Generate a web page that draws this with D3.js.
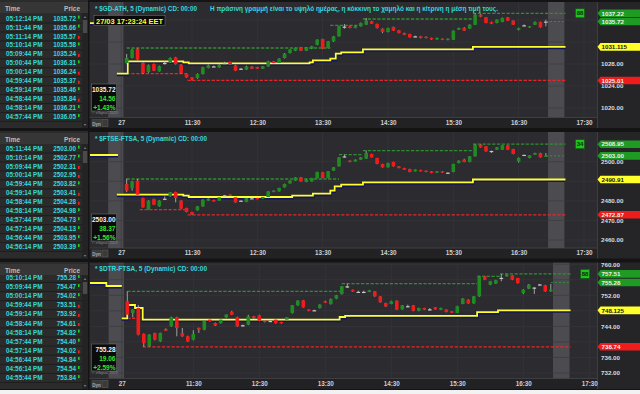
<!DOCTYPE html>
<html>
<head>
<meta charset="utf-8">
<script src="https://cdn.jsdelivr.net/npm/d3@7"></script>
<style>
  body { margin: 0; background: #fff; }
  svg { display: block; font-family: "Liberation Sans", Arial, sans-serif; font-weight: bold; }
</style>
</head>
<body>
<div id="chart"></div>
<script>
// ---------- time & sales tapes (left tables) ----------
const tapeTimes1 = ["05:12:14 PM","05:11:44 PM","05:11:14 PM","05:10:14 PM","05:09:44 PM","05:00:44 PM","05:00:14 PM","04:59:44 PM","04:59:14 PM","04:58:44 PM","04:58:14 PM","04:57:44 PM"];
const tapePrices1 = [1035.72,1035.66,1035.57,1035.58,1035.24,1036.31,1036.24,1035.37,1035.46,1035.84,1036.21,1036.05];
const tapeDirs1 = [1,1,-1,1,-1,1,-1,-1,1,-1,1,1];

const tapeTimes2 = ["05:11:44 PM","05:10:14 PM","05:09:44 PM","05:00:14 PM","04:59:44 PM","04:59:14 PM","04:58:44 PM","04:58:14 PM","04:57:44 PM","04:57:14 PM","04:56:44 PM","04:56:14 PM"];
const tapePrices2 = [2503.00,2502.77,2502.31,2502.95,2503.82,2503.41,2504.28,2504.98,2504.73,2504.13,2503.95,2503.39];
const tapeDirs2 = [1,1,-1,-1,1,-1,-1,1,1,1,1,1];

const tapeTimes3 = ["05:10:14 PM","05:09:44 PM","05:00:14 PM","04:59:44 PM","04:59:14 PM","04:58:44 PM","04:58:14 PM","04:57:44 PM","04:57:14 PM","04:56:44 PM","04:56:14 PM","04:55:44 PM"];
const tapePrices3 = [755.28,754.47,754.02,753.51,753.92,754.61,754.82,754.40,754.02,754.84,754.54,753.84];
const tapeDirs3 = [1,1,1,-1,-1,-1,1,1,-1,1,1,1];

// ---------- 5 minute candles, 10:30 .. 16:55 ----------
const open1 = [1028.18,1029.09,1030.79,1028.18,1026.54,1028.0,1026.67,1028.2,1028.30,1029.2,
  1027.88,1026.18,1025.57,1025.45,1026.18,1027.27,1027.57,1027.39,1028.18,1028.36,
  1027.76,1027.15,1026.97,1027.51,1027.45,1027.15,1027.57,1028.48,1028.18,1029.09,
  1030.0,1030.42,1031.03,1030.42,1030.79,1031.51,1032.54,1030.91,1032.12,1033.03,
  1034.8,1034.85,1034.54,1034.85,1035.15,1035.76,1035.27,1034.42,1033.82,1034.73,
  1034.12,1033.63,1033.45,1033.03,1033.03,1032.97,1032.73,1032.48,1032.60,1032.36,
  1032.42,1034.24,1034.54,1034.42,1035.15,1036.97,1036.48,1035.63,1035.45,1035.63,
  1036.48,1035.88,1034.24,1035.03,1034.67,1035.15,1035.63,1035.72];
const close1 = [1029.09,1030.6,1028.79,1026.36,1027.76,1026.79,1027.57,1028.15,1029.09,1028.0,
  1026.36,1025.57,1025.27,1026.18,1027.39,1027.76,1027.55,1027.88,1028.16,1028.0,
  1026.79,1027.13,1027.57,1027.15,1027.15,1027.57,1028.48,1028.18,1028.97,1029.88,
  1030.6,1030.91,1030.42,1031.03,1031.21,1032.42,1030.79,1032.12,1033.03,1034.85,
  1034.78,1034.54,1034.85,1035.45,1035.88,1035.33,1034.54,1033.82,1034.54,1034.06,
  1033.63,1033.33,1032.85,1033.01,1032.73,1032.73,1032.48,1032.73,1032.42,1032.60,
  1034.06,1034.54,1034.06,1035.15,1036.97,1036.6,1035.45,1035.33,1036.06,1036.36,
  1035.88,1035.15,1034.54,1035.01,1034.85,1035.63,1034.67,1035.72];
const high1 = [1029.82,1030.75,1030.91,1028.3,1027.9,1028.1,1027.7,1028.48,1029.2,1029.3,
  1028.0,1026.2,1025.6,1026.3,1027.5,1027.9,1027.7,1028.0,1028.4,1028.45,
  1027.85,1027.3,1027.7,1027.6,1027.5,1027.65,1028.6,1028.55,1029.05,1030.0,
  1030.7,1030.95,1031.1,1031.1,1031.3,1032.5,1032.6,1032.2,1033.1,1034.95,
  1035.27,1034.95,1034.95,1035.55,1036.36,1035.85,1035.35,1034.5,1034.6,1034.8,
  1034.2,1033.7,1033.5,1033.15,1033.1,1033.0,1032.8,1032.8,1032.65,1032.65,
  1034.1,1034.6,1034.7,1035.2,1037.22,1037.1,1036.55,1035.7,1036.1,1036.45,
  1036.55,1035.95,1034.6,1035.2,1034.9,1035.75,1035.7,1036.06];
const low1 = [1028.1,1029.0,1028.7,1026.24,1026.4,1026.7,1026.6,1027.88,1028.2,1027.9,
  1026.24,1025.5,1025.01,1025.3,1026.1,1027.2,1027.45,1027.3,1028.0,1027.9,
  1026.7,1027.0,1026.9,1027.1,1027.1,1027.1,1027.5,1028.1,1028.1,1029.0,
  1029.9,1030.35,1030.35,1030.35,1030.7,1031.4,1030.7,1030.85,1032.0,1032.97,
  1034.42,1034.5,1034.5,1034.8,1035.1,1035.3,1034.45,1033.6,1033.75,1034.0,
  1033.55,1033.25,1032.8,1032.9,1032.65,1032.65,1032.4,1032.4,1032.35,1032.3,
  1032.36,1034.2,1034.0,1034.4,1035.1,1036.5,1035.4,1035.25,1035.4,1035.6,
  1035.8,1035.1,1034.1,1034.9,1034.6,1035.1,1034.6,1034.85];

const open2 = [2488.61,2486.56,2490.31,2481.46,2475.84,2480.95,2477.2,2481.1,2482.31,2484.52,
  2480.1,2476.35,2474.31,2475.16,2477.2,2480.1,2480.44,2480.1,2482.82,2483.16,
  2481.8,2480.1,2479.42,2481.3,2481.46,2481.12,2481.97,2484.52,2484.86,2486.91,
  2488.95,2490.31,2492.01,2489.63,2489.97,2491.67,2494.57,2491.67,2495.42,2497.63,
  2502.7,2500.52,2500.18,2501.03,2501.55,2503.93,2501.89,2498.82,2497.12,2499.84,
  2497.63,2496.78,2496.27,2495.08,2495.76,2495.42,2495.08,2494.4,2495.08,2494.4,
  2494.74,2499.33,2501.03,2499.84,2502.74,2508.7,2507.84,2505.5,2506.14,2506.14,
  2508.35,2506.48,2500.18,2503.5,2501.89,2503.59,2504.44,2502.6];
const close2 = [2485.2,2489.97,2483.16,2476.69,2480.1,2478.05,2480.1,2481.0,2484.35,2481.46,
  2476.01,2474.31,2473.29,2477.2,2480.61,2481.12,2479.76,2481.8,2482.8,2482.48,
  2479.24,2480.05,2481.46,2481.25,2480.78,2481.97,2484.86,2485.2,2486.56,2488.61,
  2490.31,2492.01,2489.97,2490.82,2491.67,2494.74,2491.67,2495.08,2497.12,2502.23,
  2502.6,2499.84,2501.03,2502.23,2504.44,2502.23,2498.82,2497.12,2499.33,2497.63,
  2496.78,2495.93,2494.74,2495.93,2495.08,2494.74,2494.22,2495.08,2494.4,2494.38,
  2498.82,2500.52,2499.84,2502.74,2508.7,2507.33,2505.29,2505.45,2507.33,2508.35,
  2506.14,2503.93,2501.89,2503.45,2503.25,2504.44,2502.23,2503.0];
const high2 = [2491.33,2490.2,2491.16,2481.6,2480.3,2481.1,2480.3,2482.31,2484.5,2484.7,
  2480.3,2476.5,2474.4,2477.4,2480.8,2481.3,2480.6,2482.0,2483.0,2483.3,
  2482.0,2480.2,2481.6,2481.46,2481.6,2482.1,2485.0,2485.4,2486.7,2488.8,
  2490.5,2492.1,2492.2,2491.0,2491.8,2494.9,2494.8,2495.2,2497.3,2502.4,
  2503.59,2500.7,2501.2,2502.4,2505.63,2504.1,2502.0,2499.0,2499.5,2500.0,
  2497.8,2496.9,2496.4,2496.1,2495.9,2495.5,2495.2,2495.2,2495.2,2494.57,
  2499.0,2500.7,2501.55,2502.9,2508.95,2508.9,2508.0,2505.63,2507.5,2508.5,
  2508.5,2506.6,2502.2,2503.59,2503.4,2504.6,2504.6,2504.44];
const low2 = [2484.5,2485.2,2483.0,2476.5,2475.5,2477.9,2477.0,2480.61,2482.1,2479.24,
  2475.9,2474.1,2472.87,2475.0,2477.0,2480.0,2479.6,2480.0,2482.5,2482.3,
  2479.1,2479.76,2479.3,2480.95,2480.7,2481.0,2481.8,2484.4,2484.7,2486.8,
  2488.8,2490.2,2489.8,2489.5,2489.8,2491.5,2491.5,2491.5,2495.3,2497.5,
  2502.23,2499.7,2500.0,2500.9,2501.4,2502.1,2498.7,2497.0,2497.0,2497.5,
  2496.6,2495.8,2494.6,2495.0,2495.0,2494.6,2494.1,2494.3,2494.3,2494.05,
  2494.6,2499.2,2499.7,2499.7,2502.6,2507.2,2505.1,2504.44,2506.0,2506.0,
  2506.0,2503.8,2499.5,2503.25,2501.7,2503.5,2502.1,2502.5];

const open3 = [750.45,747.45,748.73,742.04,738.87,742.3,740.15,743.33,744.02,746.33,
  742.3,741.44,740.58,743.59,743.16,745.73,744.87,744.87,746.33,747.70,
  746.33,744.3,744.44,746.59,746.85,745.47,745.4,745.73,745.13,745.73,
  747.45,749.42,750.71,748.31,748.15,748.73,750.45,749.76,751.14,752.34,
  754.31,753.37,752.9,752.9,752.85,753.02,751.74,750.02,749.76,750.62,
  748.39,749.2,749.42,748.05,748.73,748.4,748.91,748.31,748.31,747.88,
  747.45,749.76,750.88,749.94,751.74,756.88,754.74,755.0,756.5,756.88,
  757.14,756.46,752.6,753.71,754.0,754.8,754.57,753.02];
const close3 = [747.02,748.31,741.87,739.73,741.87,740.58,742.3,742.9,746.33,743.59,
  741.44,740.15,742.04,743.16,745.47,745.30,744.27,745.73,747.02,747.02,
  744.02,744.25,746.59,746.16,745.47,745.13,745.38,744.87,744.87,746.33,
  749.42,750.62,748.91,748.05,748.13,749.59,750.1,751.05,751.99,754.31,
  754.3,753.02,752.88,752.88,753.28,751.74,750.19,749.16,750.45,748.31,
  749.42,749.18,748.05,748.73,748.31,748.38,748.39,748.73,747.70,747.53,
  749.16,751.14,749.94,751.74,756.88,756.03,755.6,755.86,756.48,757.31,
  756.03,755.17,753.45,754.74,753.98,754.78,753.02,753.45];
const high3 = [753.02,748.4,749.5,742.2,742.0,742.4,742.4,743.5,746.5,746.5,
  743.59,741.6,743.0,743.7,745.6,745.9,745.0,745.9,747.1,748.0,
  746.5,744.44,747.0,746.7,747.0,745.6,745.5,745.9,745.2,746.4,
  749.5,750.7,750.8,748.4,748.3,749.7,750.6,751.2,752.1,754.4,
  755.0,753.5,753.2,753.2,753.4,753.1,751.8,750.1,750.6,750.7,
  749.5,749.59,749.5,748.8,748.8,748.73,749.0,748.8,748.4,747.95,
  749.3,751.3,751.0,751.8,757.0,757.0,755.7,756.0,757.51,757.4,
  757.2,756.5,753.6,754.9,754.05,754.91,754.7,754.91];
const low3 = [746.9,746.33,741.7,738.74,738.74,740.4,740.0,742.8,743.9,741.44,
  741.3,740.0,740.4,742.3,743.0,745.2,744.1,744.7,746.2,746.9,
  743.9,743.93,744.3,746.0,745.3,745.0,745.1,744.7,744.7,745.6,
  747.3,749.3,748.8,747.9,748.0,748.6,750.0,749.6,751.0,752.2,
  753.88,752.9,752.6,752.51,752.8,751.6,750.1,749.0,749.7,748.2,
  748.3,748.91,747.9,747.9,748.2,748.05,748.3,748.2,747.6,747.45,
  747.4,749.7,749.8,749.8,751.6,755.9,754.6,754.9,755.6,756.8,
  755.9,755.0,752.3,753.6,752.34,754.57,752.9,752.9];

// ---------- day high / low / mid step lines [time, value] ----------
const hiSteps1 = [["10:30",1030.91],["13:37",1035.03],["14:07",1036.18],["15:48",1037.22]];
const loSteps1 = [["10:30",1026.24],["11:26",1025.01]];
const midSteps1 = [["10:21",1026.24],["10:31",1028.48],["11:22",1028.30],["11:27",1028.12],["13:18",1028.30],
  ["13:21",1028.67],["13:37",1028.97],["13:42",1029.88],["13:47",1030.12],["14:07",1030.67],["15:48",1031.115]];
const prevMid1 = [["09:50",1035.45],["10:05",1035.45]];

const hiSteps2 = [["10:30",2491.16],["13:45",2503.59],["14:07",2505.63],["15:48",2508.95]];
const loSteps2 = [["10:29",2483.16],["10:42",2475.5],["11:26",2472.87]];
const midSteps2 = [["10:21",2483.16],["11:22",2482.65],["11:27",2481.97],["13:02",2482.65],["13:21",2483.67],
  ["13:37",2485.2],["13:41",2487.42],["13:47",2488.27],["14:07",2489.46],["15:48",2490.91]];
const prevMid2 = [["09:50",2503.42],["10:22",2503.42]];

const hiSteps3 = [["10:30",753.02],["13:45",755.0],["15:48",756.88],["16:09",757.51]];
const loSteps3 = [["10:30",746.07],["10:44",738.74]];
const midSteps3 = [["10:25",746.07],["10:30",749.5],["10:37",748.73],["10:44",745.73],["13:43",746.42],
  ["13:48",746.72],["15:48",747.66],["16:07",748.125]];
const prevMid3 = [["09:50",755.17],["10:11",754.39],["10:25",754.39]];

// ---------- axes ----------
const timeTicks = ["10:25","11:30","12:30","13:30","14:30","15:30","16:30","17:30"];
const timeLabels = ["27","11:30","12:30","13:30","14:30","15:30","16:30","17:30"];
const priceTicks1 = [1020,1024,1028,1032,1036];
const priceTicks2 = [2460,2470,2480,2490,2500];
const priceTicks3 = [732,736,740,744,748,752,756,760];

// right-hand price tags
const tagVals1 = [1037.22,1035.72,1031.115,1025.01];
const tagVals2 = [2508.95,2503.00,2490.91,2472.87];
const tagVals3 = [757.51,755.28,748.125,738.74];
const tagLabels1 = ["1037.22","1035.72","1031.115","1025.01"];
const tagLabels2 = ["2508.95","2503.00","2490.91","2472.87"];
const tagLabels3 = ["757.51","755.28","748.125","738.74"];
const tagKinds = ["hi","last","mid","lo"];

// last / change / pct boxes
const lastBox1 = ["1035.72","14.56","+1.43%"];
const lastBox2 = ["2503.00","38.37","+1.56%"];
const lastBox3 = ["755.28","19.06","+2.59%"];

const titles = ["* $GD-ATH, 5 (Dynamic) CD: 00:00","* $FTSE-FTSA, 5 (Dynamic) CD: 00:00","* $DTR-FTSA, 5 (Dynamic) CD: 00:00"];
const countText = ["88","34","88"];
const note = "Η πράσινη γραμμή είναι το υψηλό ημέρας, η κόκκινη το χαμηλό και η κίτρινη η μέση τιμή τους.";

// ---------- layout ----------
const parseT = d3.timeParse("%H:%M");
const barTimes = d3.range(78).map(i => d3.timeMinute.offset(parseT("10:30"), 5 * i));
const lineEnd = parseT("17:13");
const grayZones = [["10:13","10:27"],["16:57","17:12"]];

const panels = [
  {top: 0, plotTop: 2, plotBottom: 117.5, bottom: 128, xRange: [192, 584], yDomain: [1020, 1032], yRange: [108, 42],
   o: open1, h: high1, l: low1, c: close1, hi: hiSteps1, lo: loSteps1, mid: midSteps1, prev: prevMid1,
   ticks: priceTicks1, tagV: tagVals1, tagL: tagLabels1, box: lastBox1, boxY: 84,
   tt: tapeTimes1, tp: tapePrices1, td: tapeDirs1, rowTop: 20.6, rowH: 8.95, thumb: [20, 33]},
  {top: 131, plotTop: 132, plotBottom: 248, bottom: 258.5, xRange: [192, 584], yDomain: [2460, 2500], yRange: [240, 161.7],
   o: open2, h: high2, l: low2, c: close2, hi: hiSteps2, lo: loSteps2, mid: midSteps2, prev: prevMid2,
   ticks: priceTicks2, tagV: tagVals2, tagL: tagLabels2, box: lastBox2, boxY: 214,
   tt: tapeTimes2, tp: tapePrices2, td: tapeDirs2, rowTop: 150.6, rowH: 8.95, thumb: [151, 163]},
  {top: 262, plotTop: 262.5, plotBottom: 378.5, bottom: 389, xRange: [193.3, 589.3], yDomain: [732, 752], yRange: [373, 295.3],
   o: open3, h: high3, l: low3, c: close3, hi: hiSteps3, lo: loSteps3, mid: midSteps3, prev: prevMid3,
   ticks: priceTicks3, tagV: tagVals3, tagL: tagLabels3, box: lastBox3, boxY: 344,
   tt: tapeTimes3, tp: tapePrices3, td: tapeDirs3, rowTop: 280, rowH: 9.1, thumb: [282, 294]}
];

const GREEN = "#1f8c22", RED = "#f01c1c", CYAN = "#35d8dc";
const fmt = d3.format(".2f");

const svg = d3.select("#chart").append("svg").attr("width", 640).attr("height", 394);
svg.append("rect").attr("width", 640).attr("height", 394).attr("fill", "#141414");
svg.append("rect").attr("y", 390).attr("width", 640).attr("height", 4).attr("fill", "#f2f2f2");

panels.forEach((p, k) => {
  const x = d3.scaleTime().domain([parseT("11:30"), parseT("17:30")]).range(p.xRange);
  const y = d3.scaleLinear().domain(p.yDomain).range(p.yRange);
  const g = svg.append("g");

  // ----- left table -----
  const tb = g.append("g");
  tb.append("rect").attr("x", 0).attr("y", p.top).attr("width", 88).attr("height", p.bottom - p.top).attr("fill", "#2b2b2b");
  tb.append("rect").attr("x", 0).attr("y", p.top + 2).attr("width", 88).attr("height", 11).attr("fill", "#363636");
  tb.append("text").attr("x", 5).attr("y", p.top + 10.5).attr("fill", "#bdbdbd").attr("font-size", 6.5).text("Time");
  tb.append("text").attr("x", 80).attr("y", p.top + 10.5).attr("text-anchor", "end").attr("fill", "#bdbdbd").attr("font-size", 6.5).text("Price");
  const rows = tb.selectAll("g.row").data(p.tt).join("g").attr("class", "row")
    .attr("transform", (d, i) => `translate(0,${p.rowTop + i * p.rowH})`);
  rows.append("line").attr("x1", 0).attr("x2", 82).attr("y1", 2.4).attr("y2", 2.4).attr("stroke", "#1c1c1c").attr("stroke-width", 0.8);
  rows.append("text").attr("x", 6).attr("y", 0).attr("fill", CYAN).attr("font-size", 6.3)
    .attr("textLength", 36.5).attr("lengthAdjust", "spacingAndGlyphs").text(d => d);
  rows.append("text").attr("x", 76).attr("y", 0).attr("text-anchor", "end").attr("fill", CYAN).attr("font-size", 6.3)
    .text((d, i) => fmt(p.tp[i]));
  rows.append("rect").attr("x", 78).attr("y", (d, i) => p.td[i] > 0 ? -5 : -2.5).attr("width", 1.6).attr("height", 3)
    .attr("fill", (d, i) => p.td[i] > 0 ? "#22d022" : "#f02020");
  // scrollbar
  tb.append("rect").attr("x", 82).attr("y", p.top + 13).attr("width", 6).attr("height", p.bottom - p.top - 13).attr("fill", "#232323");
  tb.append("rect").attr("x", 82.8).attr("y", p.thumb[0]).attr("width", 4.4).attr("height", p.thumb[1] - p.thumb[0]).attr("fill", "#4a4a4a");
  tb.append("text").attr("x", 85).attr("y", p.top + 17.5).attr("text-anchor", "middle").attr("fill", "#888").attr("font-size", 3.5).text("▲");
  tb.append("text").attr("x", 85).attr("y", p.bottom - 2).attr("text-anchor", "middle").attr("fill", "#888").attr("font-size", 3.5).text("▼");

  // ----- chart frame -----
  g.append("rect").attr("x", 89.5).attr("y", p.plotTop).attr("width", 508).attr("height", p.plotBottom - p.plotTop).attr("fill", "#2c2c30");
  g.append("rect").attr("x", 597.5).attr("y", p.plotTop).attr("width", 42.5).attr("height", p.bottom - p.plotTop).attr("fill", "#252528");
  g.append("rect").attr("x", 89.5).attr("y", p.plotBottom).attr("width", 508).attr("height", p.bottom - p.plotBottom).attr("fill", "#222225");
  g.append("line").attr("x1", 89.5).attr("x2", 597.5).attr("y1", p.plotBottom).attr("y2", p.plotBottom).attr("stroke", "#3e3e42");
  g.append("line").attr("x1", 597.5).attr("x2", 597.5).attr("y1", p.plotTop).attr("y2", p.bottom).attr("stroke", "#3e3e42");

  const clipId = "clip" + k;
  svg.append("clipPath").attr("id", clipId).append("rect")
    .attr("x", 90).attr("y", p.plotTop).attr("width", 507).attr("height", p.plotBottom - p.plotTop);
  const plot = g.append("g").attr("clip-path", `url(#${clipId})`);

  // gray (closed market) zones
  plot.selectAll("rect.zone").data(grayZones).join("rect").attr("class", "zone")
    .attr("x", d => x(parseT(d[0]))).attr("width", d => x(parseT(d[1])) - x(parseT(d[0])))
    .attr("y", p.plotTop).attr("height", p.plotBottom - p.plotTop).attr("fill", "#4c4c50");

  // grid
  plot.selectAll("line.hg").data(p.ticks).join("line").attr("class", "hg")
    .attr("x1", 90).attr("x2", 597).attr("y1", d => y(d)).attr("y2", d => y(d))
    .attr("stroke", "#38383d").attr("stroke-width", 0.6);
  plot.selectAll("line.vg").data(timeTicks).join("line").attr("class", "vg")
    .attr("x1", d => x(parseT(d))).attr("x2", d => x(parseT(d))).attr("y1", p.plotTop).attr("y2", p.plotBottom)
    .attr("stroke", "#38383d").attr("stroke-width", 0.6);

  // day high / low dashed segments
  const segs = (steps) => steps.map((s, i) => ({
    t0: parseT(s[0]), t1: i < steps.length - 1 ? parseT(steps[i + 1][0]) : lineEnd, v: s[1]}));
  plot.selectAll("line.hi").data(segs(p.hi)).join("line").attr("class", "hi")
    .attr("x1", d => x(d.t0)).attr("x2", d => x(d.t1)).attr("y1", d => y(d.v)).attr("y2", d => y(d.v))
    .attr("stroke", "#2f8f30").attr("stroke-width", 1.3).attr("stroke-dasharray", "3.2,1.6");
  plot.selectAll("line.lo").data(segs(p.lo)).join("line").attr("class", "lo")
    .attr("x1", d => x(d.t0)).attr("x2", d => x(d.t1)).attr("y1", d => y(d.v)).attr("y2", d => y(d.v))
    .attr("stroke", "#e8262a").attr("stroke-width", 1.3).attr("stroke-dasharray", "3.2,1.6");

  // mid (yellow) step line, with dark edge
  const stepLine = d3.line().x(d => x(d[0])).y(d => y(d[1])).curve(d3.curveStepAfter);
  const midPts = p.mid.map(s => [parseT(s[0]), s[1]]).concat([[lineEnd, p.mid[p.mid.length - 1][1]]]);
  const prevPts = p.prev.map(s => [parseT(s[0]), s[1]]);
  [midPts, prevPts].forEach(pts => {
    plot.append("path").attr("d", stepLine(pts)).attr("fill", "none").attr("stroke", "#14145a")
      .attr("stroke-width", 3).attr("transform", "translate(0,1)");
    plot.append("path").attr("d", stepLine(pts)).attr("fill", "none").attr("stroke", "#ffff30").attr("stroke-width", 1.8);
  });

  // candles
  const bars = barTimes.map((t, i) => ({t, o: p.o[i], h: p.h[i], l: p.l[i], c: p.c[i]}));
  const eps = 0.005 * (p.yDomain[1] - p.yDomain[0]);
  const col = d => d.c > d.o + eps ? GREEN : d.c < d.o - eps ? RED : "#c8c8c8";
  plot.selectAll("line.wick").data(bars).join("line").attr("class", "wick")
    .attr("x1", d => x(d.t)).attr("x2", d => x(d.t)).attr("y1", d => y(d.h)).attr("y2", d => y(d.l))
    .attr("stroke", "#bdbdbd").attr("stroke-width", 0.8);
  plot.selectAll("rect.body").data(bars).join("rect").attr("class", "body")
    .attr("x", d => x(d.t) - 1.8).attr("width", 3.6)
    .attr("y", d => Math.min(y(d.o), y(d.c)))
    .attr("height", d => Math.max(1.2, Math.abs(y(d.o) - y(d.c))))
    .attr("fill", col);

  // last price short line
  const lastT = barTimes[barTimes.length - 1];
  plot.append("line").attr("x1", x(lastT)).attr("x2", x(lineEnd)).attr("y1", y(p.tagV[1])).attr("y2", y(p.tagV[1]))
    .attr("stroke", "#2f9a30").attr("stroke-width", 0.9).attr("stroke-dasharray", "2,2");

  // ----- time axis -----
  g.append("g").attr("transform", `translate(0,${p.plotBottom})`)
    .call(d3.axisBottom(x).tickValues(timeTicks.map(parseT)).tickFormat((d, i) => timeLabels[i]).tickSize(0))
    .call(a => a.select(".domain").remove())
    .call(a => a.selectAll("text").attr("fill", "#cfcfcf").attr("font-size", 6.3)
      .attr("font-family", "Liberation Sans, Arial, sans-serif").attr("font-weight", "bold"));

  // Dyn button
  g.append("rect").attr("x", 92).attr("y", p.plotBottom + 2).attr("width", 9).attr("height", p.bottom - p.plotBottom - 3.5)
    .attr("fill", "#3a3a3a").attr("stroke", "#555").attr("stroke-width", 0.5);
  g.append("text").attr("x", 96.5).attr("y", p.plotBottom + 8).attr("text-anchor", "middle").attr("fill", "#aaa").attr("font-size", 4.5).text("Dyn");
  g.append("rect").attr("x", 102).attr("y", p.plotBottom + 2).attr("width", 6).attr("height", p.bottom - p.plotBottom - 3.5)
    .attr("fill", "#3a3a3a").attr("stroke", "#666").attr("stroke-width", 0.5);

  // ----- price axis (labels hidden under a tag are left out) -----
  const clipAx = "clipax" + k;
  svg.append("clipPath").attr("id", clipAx).append("rect")
    .attr("x", 597).attr("y", p.plotTop).attr("width", 43).attr("height", p.bottom - p.plotTop);
  const ax = g.append("g").attr("clip-path", `url(#${clipAx})`);
  const shownTicks = p.ticks.filter(t => p.tagV.every(v => Math.abs(y(t) - y(v)) > 5));
  ax.append("g").attr("transform", "translate(598,0)")
    .call(d3.axisRight(y).tickValues(shownTicks).tickFormat(fmt).tickSize(0))
    .call(a => a.select(".domain").remove())
    .call(a => a.selectAll("text").attr("fill", "#dcdcdc").attr("font-size", 6.2)
      .attr("font-family", "Liberation Sans, Arial, sans-serif").attr("font-weight", "bold"));

  // price tags
  const tagFill = {hi: "#1f9a22", last: "#1f9a22", mid: "#ffff2a", lo: "#ee1c1c"};
  const tagText = {hi: "#f0f0f0", last: "#f0f0f0", mid: "#202020", lo: "#f0f0f0"};
  p.tagV.forEach((v, i) => {
    const yc = y(v), kind = tagKinds[i];
    ax.append("path").attr("d", `M597.5,${yc} L600.5,${yc - 3.8} L640,${yc - 3.8} L640,${yc + 3.8} L600.5,${yc + 3.8} Z`)
      .attr("fill", tagFill[kind]);
    ax.append("text").attr("x", 601.5).attr("y", yc + 2.3).attr("fill", tagText[kind]).attr("font-size", 6.2).text(p.tagL[i]);
  });

  // green count box
  const cy = y(p.tagV[0]), cx = x(lineEnd) + 14.5;
  g.append("rect").attr("x", cx - 4.5).attr("y", cy - 4.5).attr("width", 9).attr("height", 9)
    .attr("fill", "#1fc21f").attr("stroke", "#0d5a0d").attr("stroke-width", 0.6);
  g.append("text").attr("x", cx).attr("y", cy + 2.2).attr("text-anchor", "middle").attr("fill", "#0b2a0b").attr("font-size", 6).text(countText[k]);

  // title
  g.append("text").attr("x", 95).attr("y", p.plotTop + 8.6).attr("fill", CYAN).attr("font-size", 7)
    .attr("textLength", k === 0 ? 102 : 112).attr("lengthAdjust", "spacingAndGlyphs").text(titles[k]);

  // last / change box
  const bx = g.append("g");
  bx.append("rect").attr("x", 91.5).attr("y", p.boxY).attr("width", 25).attr("height", 27)
    .attr("fill", "#0c0c0c").attr("stroke", "#6a6a6a").attr("stroke-width", 0.6);
  bx.selectAll("text").data(p.box).join("text")
    .attr("x", 115.5).attr("y", (d, i) => p.boxY + 8 + i * 9).attr("text-anchor", "end")
    .attr("font-size", 6.5).attr("fill", (d, i) => i === 0 ? "#f2f2f2" : "#33e633").text(d => d);
  g.append("text").attr("x", 92).attr("y", p.boxY + 30).attr("fill", "#8a8a8a").attr("font-size", 3.6).attr("font-weight", "normal").text("© eSignal, 2023");
});

// panel 1 extras: note and timestamp
svg.append("text").attr("x", 210).attr("y", 10.6).attr("fill", CYAN).attr("font-size", 6.6)
  .attr("textLength", 288).attr("lengthAdjust", "spacingAndGlyphs").text(note);
svg.append("rect").attr("x", 94).attr("y", 15.5).attr("width", 71).attr("height", 10)
  .attr("fill", "#0a0a0a").attr("stroke", "#777").attr("stroke-width", 0.5);
svg.append("text").attr("x", 96).attr("y", 23.6).attr("fill", "#ffff22").attr("font-size", 8)
  .attr("textLength", 67).attr("lengthAdjust", "spacingAndGlyphs").text("27/03 17:23:24 EET");
</script>
</body>
</html>
